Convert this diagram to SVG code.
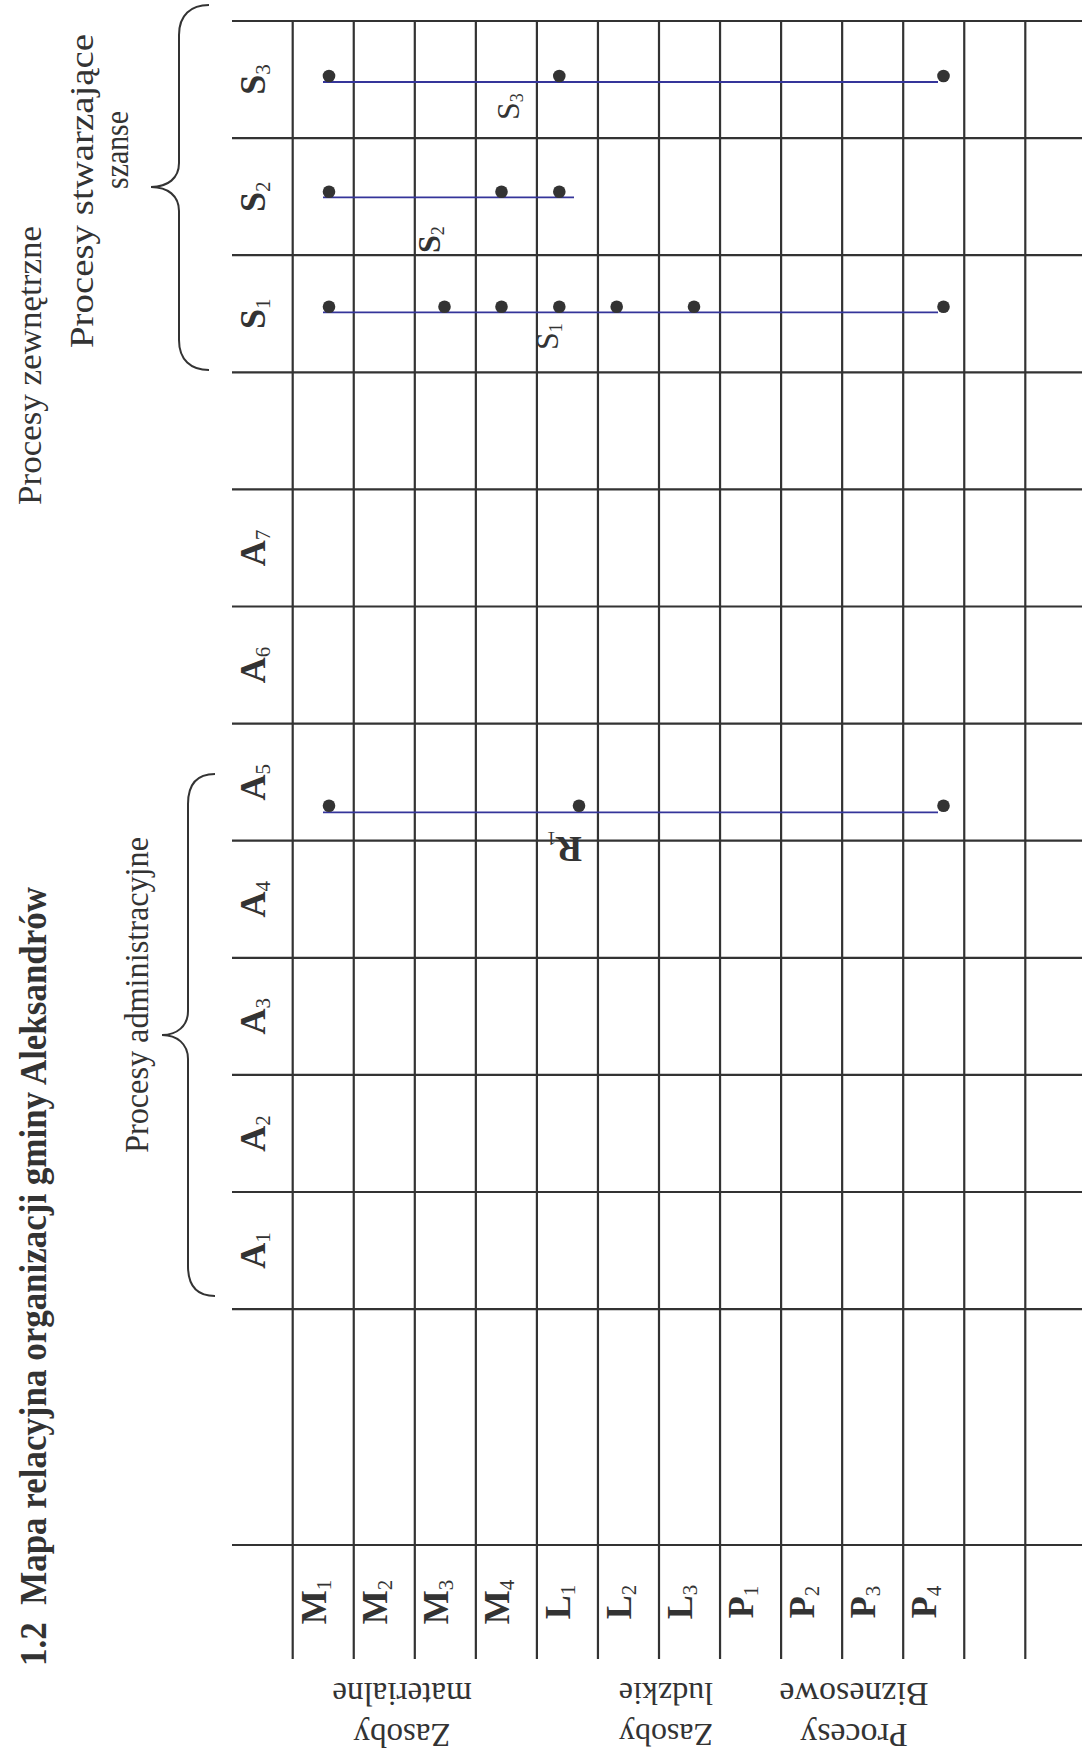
<svg xmlns="http://www.w3.org/2000/svg" width="1082" height="1758" viewBox="0 0 1082 1758">
<style>
.g{stroke:#333;stroke-width:2.2;fill:none}
.br{stroke:#333;stroke-width:2;fill:none}
.rel{stroke:#35359a;stroke-width:1.8;fill:none}
.dot{fill:#333}
text{font-family:"Liberation Serif","Times New Roman",serif;fill:#333}
.hd{font-size:36px;font-weight:bold}
.sub{font-size:21px;font-weight:normal}
.lb{font-size:34px}
.ttl{font-size:37px;font-weight:bold}
</style>
<rect width="1082" height="1758" fill="#fff"/>
<g id="grid" class="g">
<path d="M232,21H1082M232,138.1H1082M232,255.2H1082M232,372.3H1082M232,489.4H1082M232,606.5H1082M232,723.6H1082M232,840.7H1082M232,957.8H1082M232,1074.9H1082M232,1192H1082M232,1309.1H1082M232,1545H1082"/>
<path d="M292.7,21V1659M353.75,21V1659M414.8,21V1659M475.85,21V1659M536.9,21V1659M597.95,21V1659M659,21V1659M720.05,21V1659M781.1,21V1659M842.15,21V1659M903.2,21V1659M964.25,21V1659M1025.3,21V1659"/>
</g>
<g id="title"><text class="ttl" xml:space="preserve" transform="translate(46,1666) rotate(-90)" textLength="779" lengthAdjust="spacingAndGlyphs">1.2  Mapa relacyjna organizacji gminy Aleksandrów</text></g>
<g id="group-labels" class="lb">
<text transform="translate(41,505) rotate(-90)" textLength="279" lengthAdjust="spacingAndGlyphs">Procesy zewnętrzne</text>
<text transform="translate(93,348) rotate(-90)" textLength="314" lengthAdjust="spacingAndGlyphs">Procesy stwarzające</text>
<text transform="translate(128,189) rotate(-90)" textLength="78" lengthAdjust="spacingAndGlyphs">szanse</text>
<text transform="translate(148,1153) rotate(-90)" textLength="316" lengthAdjust="spacingAndGlyphs">Procesy administracyjne</text>
</g>
<g id="braces">
<path class="br" d="M209,5C191,5 179,15 179,35L179,163C179,178 168,187 151,187C168,187 179,196 179,211L179,340C179,360 191,370 209,370"/>
<path class="br" d="M215,774C197,774 188,784 188,804L188,1011C188,1026 177,1035 162,1035C177,1035 188,1044 188,1059L188,1266C188,1286 197,1296 215,1296"/>
</g>
<g id="header-labels" class="hd" text-anchor="middle">
<text transform="translate(265,79.55) rotate(-90)">S<tspan class="sub" dy="5">3</tspan></text>
<text transform="translate(265,196.65) rotate(-90)">S<tspan class="sub" dy="5">2</tspan></text>
<text transform="translate(265,313.75) rotate(-90)">S<tspan class="sub" dy="5">1</tspan></text>
<text transform="translate(265,547.95) rotate(-90)">A<tspan class="sub" dy="5">7</tspan></text>
<text transform="translate(265,665.05) rotate(-90)">A<tspan class="sub" dy="5">6</tspan></text>
<text transform="translate(265,782.15) rotate(-90)">A<tspan class="sub" dy="5">5</tspan></text>
<text transform="translate(265,899.25) rotate(-90)">A<tspan class="sub" dy="5">4</tspan></text>
<text transform="translate(265,1016.35) rotate(-90)">A<tspan class="sub" dy="5">3</tspan></text>
<text transform="translate(265,1133.45) rotate(-90)">A<tspan class="sub" dy="5">2</tspan></text>
<text transform="translate(265,1250.55) rotate(-90)">A<tspan class="sub" dy="5">1</tspan></text>
</g>
<g id="row-labels" class="hd" text-anchor="middle">
<text transform="translate(326,1602) rotate(-90)">M<tspan class="sub" dy="5">1</tspan></text>
<text transform="translate(387,1602) rotate(-90)">M<tspan class="sub" dy="5">2</tspan></text>
<text transform="translate(448,1602) rotate(-90)">M<tspan class="sub" dy="5">3</tspan></text>
<text transform="translate(509,1602) rotate(-90)">M<tspan class="sub" dy="5">4</tspan></text>
<text transform="translate(570,1602) rotate(-90)">L<tspan class="sub" dy="5">1</tspan></text>
<text transform="translate(631,1602) rotate(-90)">L<tspan class="sub" dy="5">2</tspan></text>
<text transform="translate(692,1602) rotate(-90)">L<tspan class="sub" dy="5">3</tspan></text>
<text transform="translate(753,1602) rotate(-90)">P<tspan class="sub" dy="5">1</tspan></text>
<text transform="translate(814,1602) rotate(-90)">P<tspan class="sub" dy="5">2</tspan></text>
<text transform="translate(875,1602) rotate(-90)">P<tspan class="sub" dy="5">3</tspan></text>
<text transform="translate(936,1602) rotate(-90)">P<tspan class="sub" dy="5">4</tspan></text>
</g>
<g id="bottom-labels" class="lb" text-anchor="middle">
<g id="zasoby-materialne" transform="translate(402,0)" style="font-size:33px">
<text transform="translate(0,1724) rotate(180)">Zasoby</text>
<text transform="translate(0,1683) rotate(180)">materialne</text>
</g>
<g id="zasoby-ludzkie" transform="translate(666,0)" style="font-size:32px">
<text transform="translate(0,1724) rotate(180)">Zasoby</text>
<text transform="translate(0,1683) rotate(180)">ludzkie</text>
</g>
<g id="procesy-biznesowe" transform="translate(854,0)">
<text transform="translate(0,1724) rotate(180)">Procesy</text>
<text transform="translate(0,1683) rotate(180)">Biznesowe</text>
</g>
</g>
<g id="connectors" class="rel">
<path d="M323,82H938"/>
<path d="M323,197.3H574"/>
<path d="M323,312.3H938"/>
<path d="M323,812.3H938"/>
</g>
<g id="nodes" class="dot">
<circle cx="329" cy="76" r="6.3"/><circle cx="559.3" cy="76" r="6.3"/><circle cx="943.5" cy="76" r="6.3"/>
<circle cx="329" cy="191.7" r="6.3"/><circle cx="501.5" cy="191.7" r="6.3"/><circle cx="559.3" cy="191.7" r="6.3"/>
<circle cx="329" cy="306.7" r="6.3"/><circle cx="444.5" cy="306.7" r="6.3"/><circle cx="501.5" cy="306.7" r="6.3"/><circle cx="559.3" cy="306.7" r="6.3"/><circle cx="616.7" cy="306.7" r="6.3"/><circle cx="694" cy="306.7" r="6.3"/><circle cx="943.5" cy="306.7" r="6.3"/>
<circle cx="329" cy="805.7" r="6.3"/><circle cx="579" cy="805.7" r="6.3"/><circle cx="943.5" cy="805.7" r="6.3"/>
</g>
<g id="relation-labels">
<text class="lb" transform="translate(558,350) rotate(-90)" style="font-size:32px">S<tspan class="sub" dy="4" style="font-size:18px">1</tspan></text>
<text class="lb" transform="translate(440,253) rotate(-90)" style="font-size:32px;font-weight:bold">S<tspan class="sub" dy="4" style="font-size:18px">2</tspan></text>
<text class="lb" transform="translate(519,120) rotate(-90)" style="font-size:32px">S<tspan class="sub" dy="4" style="font-size:18px">3</tspan></text>
<text class="hd" transform="translate(582,837) rotate(180)">R<tspan class="sub" dy="5" style="font-size:18px">1</tspan></text>
</g>
</svg>
